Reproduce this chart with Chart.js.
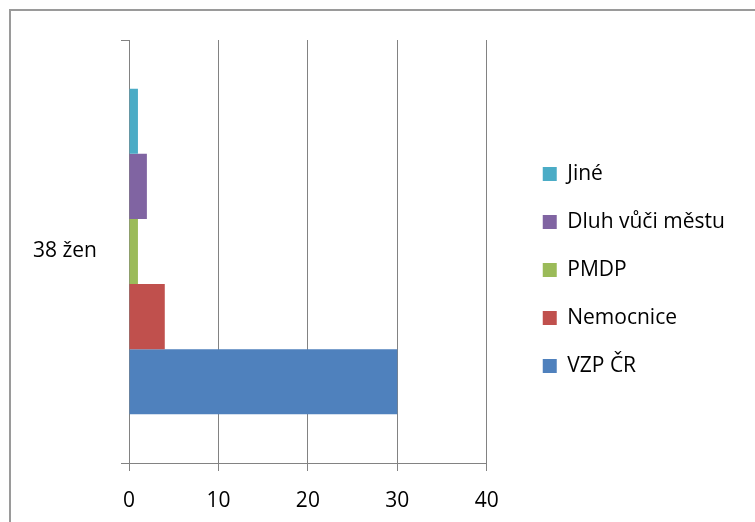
<!DOCTYPE html>
<html>
<head>
<meta charset="utf-8">
<script src="https://cdn.jsdelivr.net/npm/chart.js@4"></script>
<style>
  html, body { margin: 0; padding: 0; background: #fff; overflow: hidden; }
  #wrap { position: relative; width: 755px; height: 522px; }
  #frame { position: absolute; left: 9px; top: 9px; width: 800px; height: 600px;
           border: 2px solid #9a9a9a; pointer-events: none; }
</style>
</head>
<body>
<div id="wrap">
  <canvas id="chart" width="755" height="522"></canvas>
  <div id="frame"></div>
</div>
<script>
// data
const categories = ['38 žen'];
const seriesNames = ['Jiné', 'Dluh vůči městu', 'PMDP', 'Nemocnice', 'VZP ČR'];
const jine = [1];
const dluh = [2];
const pmdp = [1];
const nemocnice = [4];
const vzp = [30];
const xTicks = [0, 10, 20, 30, 40];

const colors = ['#4BACC6', '#8064A2', '#9BBB59', '#C0504D', '#4F81BD'];
const gridColor = '#828282';
const font = "'Open Sans', 'DejaVu Sans', sans-serif";

const values = [jine, dluh, pmdp, nemocnice, vzp];

// legend sits a bit further right and higher than chart.js puts it
const legendShift = {
    id: 'legendShift',
    afterLayout(chart) {
        const lg = chart.legend;
        lg.left += 29;
        lg.right = chart.width;
        lg.top -= 11;
        lg.bottom -= 11;
    }
};

const ctx = document.getElementById('chart').getContext('2d');
const chart = new Chart(ctx, {
    type: 'bar',
    data: {
        labels: categories,
        datasets: seriesNames.map((name, i) => ({
            label: name,
            data: values[i],
            backgroundColor: colors[i],
            borderWidth: 0,
            barPercentage: 1,
            categoryPercentage: 0.77
        }))
    },
    plugins: [legendShift],
    options: {
        indexAxis: 'y',
        responsive: false,
        animation: false,
        layout: {
            padding: { top: 40, left: 0, right: 106, bottom: 0 }
        },
        scales: {
            x: {
                min: 0,
                max: 40,
                afterBuildTicks: (scale) => {
                    scale.ticks = xTicks.map(v => ({ value: v }));
                },
                afterFit: (scale) => { scale.height = 59; },
                grid: {
                    color: gridColor,
                    lineWidth: 1,
                    tickLength: 8
                },
                border: { color: gridColor, width: 1 },
                ticks: {
                    color: '#000',
                    padding: 17,
                    font: { family: font, size: 21 }
                }
            },
            y: {
                afterFit: (scale) => { scale.width = 129; },
                grid: {
                    drawOnChartArea: false,
                    color: gridColor,
                    tickLength: 8
                },
                border: { color: gridColor, width: 1 },
                ticks: {
                    color: '#000',
                    padding: 24,
                    font: { family: font, size: 21 }
                }
            }
        },
        plugins: {
            tooltip: { enabled: false },
            legend: {
                position: 'right',
                labels: {
                    color: '#000',
                    boxWidth: 14,
                    boxHeight: 14,
                    padding: 27,
                    font: { family: font, size: 21 }
                }
            }
        }
    }
});
</script>
</body>
</html>
